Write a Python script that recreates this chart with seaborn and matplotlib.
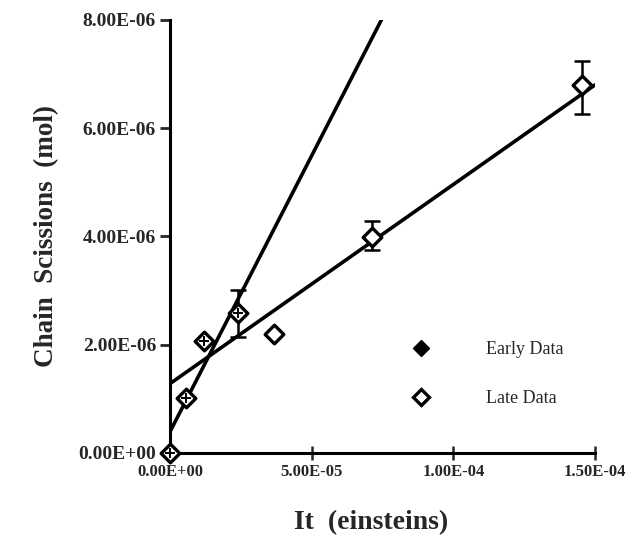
import numpy as np
import pandas as pd
import seaborn as sns
import matplotlib.pyplot as plt
from matplotlib.lines import Line2D
from matplotlib.ticker import FuncFormatter

# data
early_x = [0.0, 0.56e-5, 1.2e-5, 2.4e-5]
early_y = [0.0, 1.02e-6, 2.07e-6, 2.59e-6]
late_x = [3.67e-5, 7.13e-5, 1.454e-4]
late_y = [2.2e-6, 3.99e-6, 6.80e-6]

# error bars (lower, upper) for the points that have them
err_x = [2.4e-5, 7.13e-5, 1.454e-4]
err_y = [2.59e-6, 3.99e-6, 6.80e-6]
err_lo = [2.14e-6, 3.75e-6, 6.27e-6]
err_hi = [3.02e-6, 4.28e-6, 7.24e-6]

# fitted lines: intercept, slope
early_fit = (0.39e-6, 0.102)
late_fit = (1.28e-6, 0.0368)

df = pd.DataFrame({
    'x': early_x + late_x,
    'y': early_y + late_y,
    'set': ['Early Data'] * len(early_x) + ['Late Data'] * len(late_x),
})

sns.set_style("white")
plt.rcParams['font.family'] = ['Liberation Serif', 'DejaVu Serif']
plt.rcParams['font.weight'] = 'bold'

fig = plt.figure(figsize=(6.27, 5.39), dpi=100)
ax = fig.add_axes([0.271, 0.1596, 0.678, 0.8034])

# fit lines
xs = np.linspace(0, 1.5e-4, 200)
for b, m in [early_fit, late_fit]:
    ax.plot(xs, b + m * xs, color='black', lw=2.6, zorder=2)

# error bars
yerr = [np.array(err_y) - np.array(err_lo), np.array(err_hi) - np.array(err_y)]
ax.errorbar(err_x, err_y, yerr=yerr, fmt='none', ecolor='black',
            elinewidth=1.8, capsize=5.5, capthick=1.8, zorder=3)

# points
sns.scatterplot(data=df, x='x', y='y', marker='D', s=90, color='white',
                edgecolor='black', linewidth=2.4, ax=ax, legend=False,
                zorder=4, clip_on=False)
ax.scatter(early_x, early_y, marker='+', s=55, color='black',
           linewidths=1.4, zorder=5, clip_on=False)

ax.set_xlim(0, 1.5e-4)
ax.set_ylim(0, 8e-6)
ax.set_xticks([0, 5e-5, 1e-4, 1.5e-4])
ax.set_yticks([0, 2e-6, 4e-6, 6e-6, 8e-6])
fmt = FuncFormatter(lambda v, p: '%.2E' % v)
ax.xaxis.set_major_formatter(fmt)
ax.yaxis.set_major_formatter(fmt)

sns.despine(ax=ax)
for s in ['left', 'bottom']:
    ax.spines[s].set_linewidth(2.2)
    ax.spines[s].set_color('black')
ax.tick_params(axis='y', direction='out', length=7, width=2,
               labelsize=14, pad=3, left=True)
ax.tick_params(axis='x', direction='inout', length=10, width=1.8,
               labelsize=12, pad=3, bottom=True)

ax.set_xlabel('It  (einsteins)', fontsize=20, fontweight='bold')
ax.xaxis.set_label_coords(0.473, -0.133)
ax.set_ylabel('Chain  Scissions  (mol)', fontsize=19.5, fontweight='bold',
              labelpad=14)

handles = [
    Line2D([], [], marker='D', ls='none', color='black', markersize=8,
           markeredgecolor='black'),
    Line2D([], [], marker='D', ls='none', markerfacecolor='white',
           markeredgecolor='black', markeredgewidth=2.4, markersize=8),
]
ax.legend(handles, ['Early Data', 'Late Data'], frameon=False,
          loc='upper left', bbox_to_anchor=(0.51, 0.295), labelspacing=1.75,
          handletextpad=2.6, prop={'size': 13, 'weight': 'normal'})

fig.savefig('out.png', dpi=100)
